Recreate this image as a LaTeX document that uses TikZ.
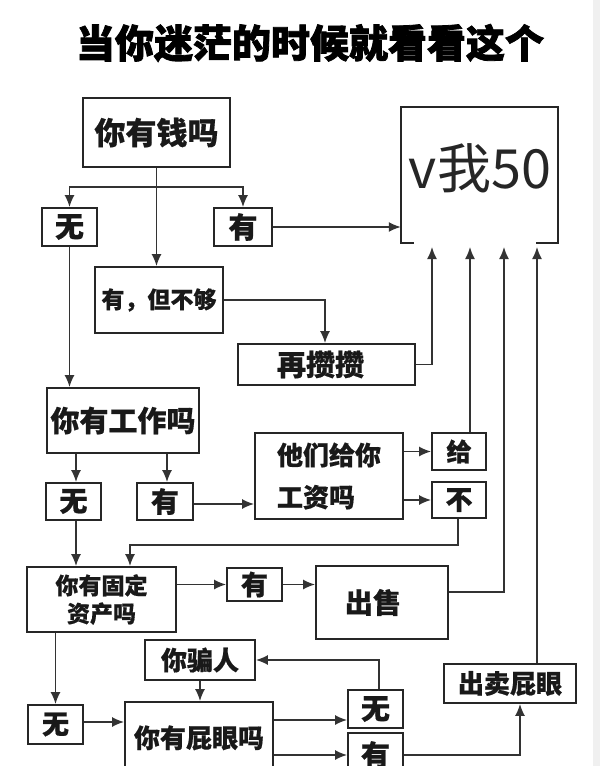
\documentclass[tikz,border=0pt]{standalone}
\usepackage{fontspec}
\newfontfamily\cjk{Noto Sans CJK SC}[BoldFeatures={FakeBold=0.6}]
\newfontfamily\cjkheavy{Noto Sans CJK SC}[BoldFeatures={FakeBold=2}]
\usetikzlibrary{arrows.meta,calc}
\tikzset{
  box/.style={draw=black!85, line width=1.8pt, inner sep=0pt, font=\cjk\bfseries, text=black!90},
  arr/.style={draw=black!80, line width=1.6pt, -{Latex[length=12pt,width=10pt]}},
  ln/.style={draw=black!80, line width=1.6pt},
}
\newcommand{\fs}[2]{\fontsize{#1}{#2}\selectfont}
\begin{document}
\begin{tikzpicture}[x=1pt,y=-1pt]
\useasboundingbox (0,0) rectangle (600,766);
\fill[gray!12] (593,0) rectangle (600,766);
% title
\node[font=\cjkheavy\bfseries\fs{39}{41}, inner sep=0pt] (title) at (310,43) {当你迷茫的时候就看看这个};
% boxes
\node[box, minimum width=147, minimum height=69, font=\cjk\bfseries\fs{31}{34}] (money) at (156.5,132.5) {你有钱吗};
\node[box, minimum width=55, minimum height=38, font=\cjk\bfseries\fs{29}{32}] (wu1) at (69.5,227) {无};
\node[box, minimum width=58, minimum height=38, font=\cjk\bfseries\fs{29}{32}] (you1) at (243,227) {有};
\node[inner sep=0pt, minimum width=157, minimum height=136] (v50) at (479.5,175) {};
\node[font=\cjk\fs{54}{58}, inner sep=0pt, text=black!85] (v50t) at (480,168) {v我50};
\draw[line width=1.8pt, draw=black!85] ($(v50.south west)+(13,0)$) -- (v50.south west) -- (v50.north west) -- (v50.north east) -- (v50.south east) -- ++(-22,0);
\node[box, minimum width=128, minimum height=66, font=\cjk\bfseries\fs{23}{26}] (enough) at (159,300) {有，但不够};
\node[box, minimum width=177, minimum height=41, font=\cjk\bfseries\fs{29}{32}] (save) at (326.5,364.5) {\hspace*{-12pt}再攒攒};
\node[box, minimum width=152, minimum height=65, font=\cjk\bfseries\fs{29}{32}] (job) at (123,420.5) {你有工作吗};
\node[box, minimum width=55, minimum height=37, font=\cjk\bfseries\fs{28}{32}] (wu2) at (73.5,501.5) {无};
\node[box, minimum width=56, minimum height=37, font=\cjk\bfseries\fs{28}{32}] (you2) at (165,501.5) {有};
\node[box, minimum width=148, minimum height=86, align=left, font=\cjk\bfseries\fs{26}{42}] (pay) at (329,476) {他们给你\\工资吗};
\node[box, minimum width=54, minimum height=37, font=\cjk\bfseries\fs{25}{28}] (give) at (459,451.5) {给};
\node[box, minimum width=54, minimum height=36, font=\cjk\bfseries\fs{27}{30}] (no) at (459,500) {不};
\node[box, minimum width=149, minimum height=65, align=center, font=\cjk\bfseries\fs{23}{28}] (asset) at (101.5,599.5) {你有固定\\资产吗};
\node[box, minimum width=55, minimum height=33, font=\cjk\bfseries\fs{27}{30}] (you3) at (254.5,584.5) {有};
\node[box, minimum width=132, minimum height=73, font=\cjk\bfseries\fs{28}{30}] (sell) at (382,602.5) {\hspace*{-18pt}出售};
\node[box, minimum width=132, minimum height=39, font=\cjk\bfseries\fs{26}{30}] (sellass) at (510,683.5) {出卖屁眼};
\node[box, minimum width=110, minimum height=40, font=\cjk\bfseries\fs{26}{30}] (lie) at (200,660) {你骗人};
\node[box, minimum width=148, minimum height=74, font=\cjk\bfseries\fs{26}{30}] (butt) at (199,739) {\raisebox{5pt}{你有屁眼吗}};
\node[box, minimum width=55, minimum height=39, font=\cjk\bfseries\fs{27}{30}] (wu3) at (55.5,724.5) {无};
\node[box, minimum width=55, minimum height=38, font=\cjk\bfseries\fs{29}{32}] (wu4) at (375.5,709) {无};
\node[box, minimum width=55, minimum height=44, font=\cjk\bfseries\fs{29}{32}] (you4) at (375.5,755) {有};
% target coordinates below v50
\coordinate (vb1) at (432,247);
\coordinate (vb2) at (470,247);
\coordinate (vb3) at (504,247);
\coordinate (vb4) at (537,247);
\coordinate (br) at (156.5,187);
\coordinate (w4in) at ([yshift=-11pt]wu4.west);
% connectors
\draw[ln] (money.south) -- (br);
\draw[arr] (br) -| (wu1.north);
\draw[arr] (br) -| (you1.north);
\draw[arr] (money.south) -- (money.south |- enough.north);
\draw[arr] (you1.east) -- (you1.east -| v50.west);
\draw[arr] (enough.east) -| ([xshift=-1.5pt]save.north);
\draw[arr] (save.east) -| (vb1);
\draw[arr] (wu1.south) -- (wu1.south |- job.north);
\draw[arr] ([xshift=2.5pt]wu2.north |- job.south) -- ([xshift=2.5pt]wu2.north);
\draw[arr] ([xshift=2pt]you2.north |- job.south) -- ([xshift=2pt]you2.north);
\draw[arr] ([yshift=-2.5pt]you2.east) -- ([yshift=-2.5pt]you2.east -| pay.west);
\draw[arr] (pay.east |- give.west) -- (give.west);
\draw[arr] (pay.east |- no.west) -- (no.west);
\draw[arr] (give.north -| vb2) -- (vb2);
\draw[arr] ([xshift=-1pt]no.south) -- ++(0,26) -| ([xshift=28.5pt]asset.north);
\draw[arr] ([xshift=2.5pt]wu2.south) -- ([xshift=2.5pt]wu2.south |- asset.north);
\draw[arr] (asset.east |- you3.west) -- (you3.west);
\draw[arr] (you3.east) -- (you3.east -| sell.west);
\draw[arr] ([yshift=10.5pt]sell.east) -| (vb3);
\draw[arr] (sellass.north -| vb4) -- (vb4);
\draw[arr] (wu3.north |- asset.south) -- (wu3.north);
\draw[arr] ([yshift=2.5pt]wu3.east) -- ([yshift=2.5pt]wu3.east -| butt.west);
\draw[arr] (lie.south) -- (lie.south |- butt.north);
\draw[arr] (butt.east |- w4in) -- (w4in);
\draw[arr] (butt.east |- you4.west) -- (you4.west);
\draw[arr] ([xshift=3.5pt]wu4.north) |- (lie.east);
\draw[arr] (you4.east) -| ([xshift=10pt]sellass.south);
\end{tikzpicture}
\end{document}
